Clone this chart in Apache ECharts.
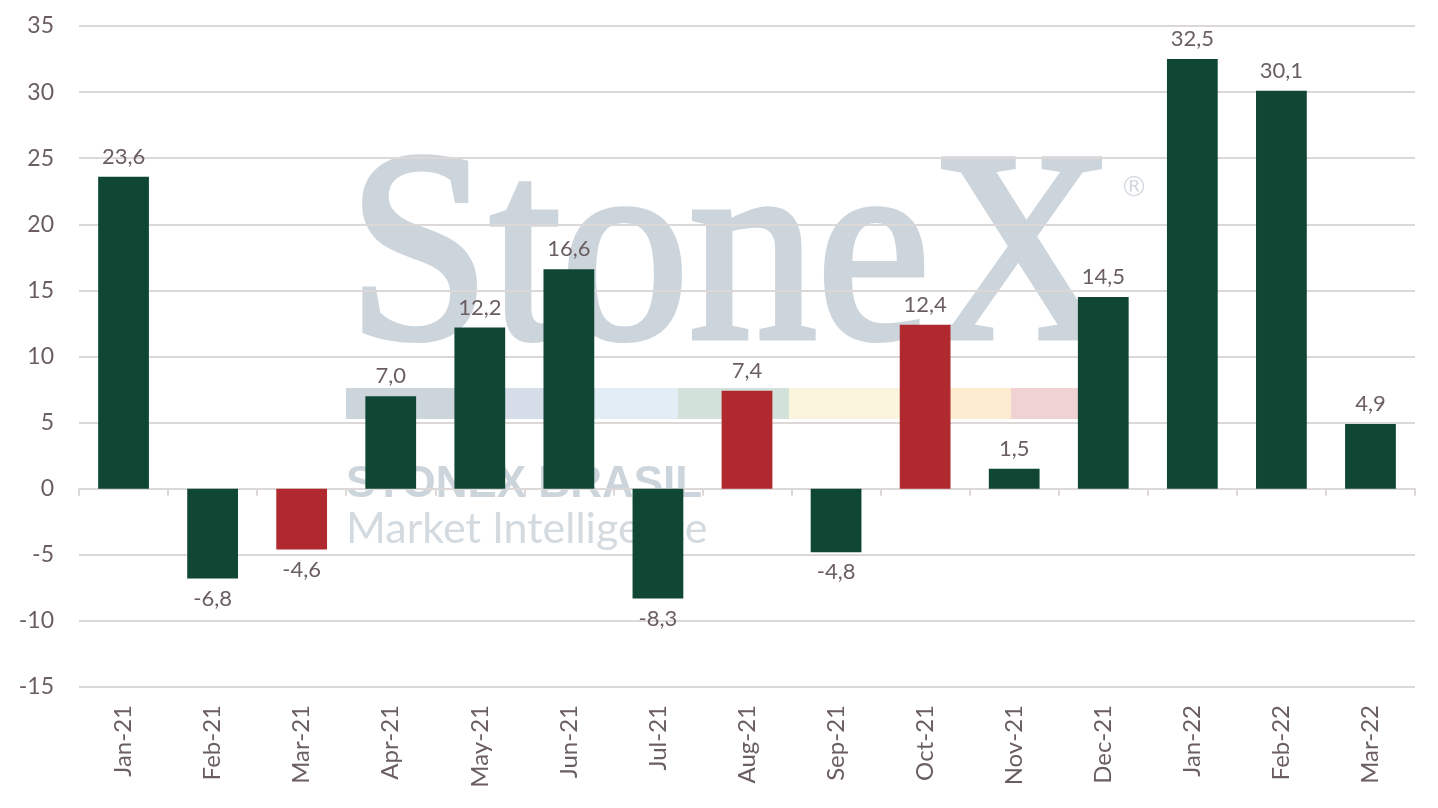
<!DOCTYPE html>
<html>
<head>
<meta charset="utf-8">
<title>StoneX monthly chart</title>
<script src="https://cdn.jsdelivr.net/npm/echarts@6/dist/echarts.min.js"></script>
<style>
  html, body { margin: 0; padding: 0; background: #ffffff; }
  #chart { width: 1438px; height: 808px; }
</style>
</head>
<body>
<div id="chart"></div>
<script>
// data
const months = ["Jan-21", "Feb-21", "Mar-21", "Apr-21", "May-21", "Jun-21", "Jul-21", "Aug-21",
  "Sep-21", "Oct-21", "Nov-21", "Dec-21", "Jan-22", "Feb-22", "Mar-22"];
const values = [23.6, -6.8, -4.6, 7.0, 12.2, 16.6, -8.3, 7.4, -4.8, 12.4, 1.5, 14.5, 32.5, 30.1, 4.9];
const redMonths = ["Mar-21", "Aug-21", "Oct-21"];
const yTicks = [-15, -10, -5, 0, 5, 10, 15, 20, 25, 30, 35];

const GREEN = "#0f4634";
const RED = "#b0292e";
const TEXT = "#6b5e60";
const GRID = "#dcd8d8";
const FONT = "Lato";

const chart = echarts.init(document.getElementById("chart"));

const barData = values.map((v, i) => ({
  value: v,
  itemStyle: { color: redMonths.includes(months[i]) ? RED : GREEN },
  label: { position: v < 0 ? "bottom" : "top" }
}));

// watermark stripe
const stripe = [
  ["#cdd5dc", 346, 134],
  ["#d5dde8", 480, 115],
  ["#e2edf5", 595, 83],
  ["#d2e1d9", 678, 111],
  ["#faf4dc", 789, 131],
  ["#fcebcf", 920, 91],
  ["#f0d2d3", 1011, 69]
];

const option = {
  backgroundColor: "#ffffff",
  animation: false,
  textStyle: { fontFamily: FONT },
  grid: { left: 79, right: 23, top: 26, bottom: 121, containLabel: false },
  graphic: [
    {
      type: "text", left: 345, top: 127, z: -10, silent: true, scaleX: 0.94,
      style: {
        text: "StoneX", font: "272px 'Liberation Serif'", fill: "#cdd5dc",
        stroke: "#cdd5dc", lineWidth: 6
      }
    },
    {
      type: "text", left: 1120, top: 175, z: -10, silent: true,
      style: { text: "®", font: "28px 'DejaVu Sans'", fill: "#d3dae0" }
    },
    ...stripe.map(s => ({
      type: "rect", z: -10, silent: true,
      shape: { x: s[1], y: 388, width: s[2], height: 31 },
      style: { fill: s[0] }
    })),
    {
      type: "text", left: 346, top: 463, z: -10, silent: true,
      style: { text: "STONEX BRASIL", font: "bold 44px 'Liberation Sans'", fill: "#cdd5dc" }
    },
    {
      type: "text", left: 346, top: 508, z: -10, silent: true,
      style: { text: "Market Intelligence", font: "43px 'Lato'", fill: "#d3dbe1" }
    }
  ],
  xAxis: [
    {
      type: "category",
      data: months,
      position: "bottom",
      axisLine: { show: false, onZero: false },
      axisTick: { show: false },
      axisLabel: {
        rotate: 90, margin: 18, color: TEXT, fontSize: 24, fontFamily: FONT
      }
    },
    {
      type: "category",
      data: months,
      position: "bottom",
      axisLine: { show: true, onZero: true, lineStyle: { color: GRID, width: 2 } },
      axisTick: { show: true, length: 7, lineStyle: { color: GRID, width: 2 } },
      axisLabel: { show: false }
    }
  ],
  yAxis: {
    type: "value",
    min: yTicks[0],
    max: yTicks[yTicks.length - 1],
    interval: 5,
    axisLine: { show: false },
    axisTick: { show: false },
    splitLine: { lineStyle: { color: GRID, width: 2 } },
    axisLabel: { margin: 25, color: TEXT, fontSize: 23, fontFamily: FONT }
  },
  series: [
    {
      type: "bar",
      xAxisIndex: 0,
      data: barData,
      barWidth: "57%",
      label: {
        show: true,
        distance: 9,
        color: TEXT,
        fontSize: 22,
        fontFamily: FONT,
        formatter: p => p.value.toFixed(1).replace(".", ",")
      }
    }
  ]
};

chart.setOption(option);
</script>
</body>
</html>
